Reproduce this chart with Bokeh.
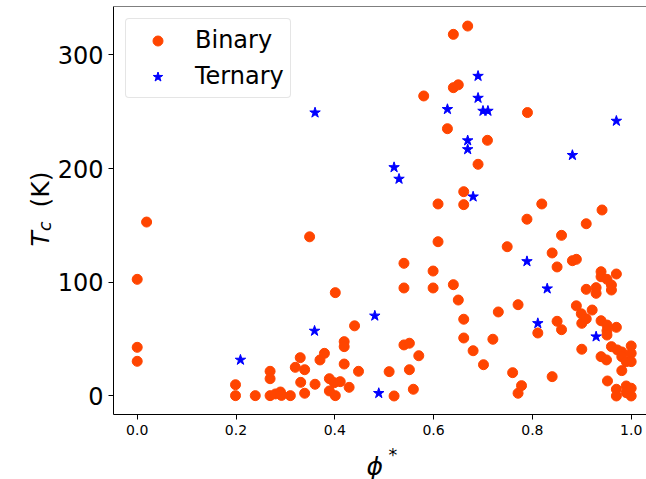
import math
from bokeh.plotting import figure
from bokeh.models import Range1d, FixedTicker, NumeralTickFormatter, Label, Span, Legend, LegendItem
from bokeh.embed import file_html
from bokeh.resources import INLINE

# ---- data ----
binary_phi = [0.0, 0.0, 0.0, 0.019,
              0.199, 0.199, 0.239, 0.269, 0.269, 0.269, 0.280, 0.290, 0.292, 0.310, 0.320, 0.330, 0.331,
              0.339, 0.339, 0.349, 0.360, 0.370, 0.379, 0.389, 0.389, 0.399, 0.401, 0.401, 0.411, 0.419,
              0.419, 0.419, 0.429, 0.440, 0.448,
              0.510, 0.520, 0.540, 0.540, 0.540, 0.551, 0.551, 0.559, 0.570, 0.580, 0.599, 0.599, 0.609,
              0.609, 0.628, 0.640, 0.640, 0.640, 0.650, 0.650, 0.661, 0.661, 0.661, 0.661, 0.669, 0.680,
              0.690, 0.701, 0.709, 0.720, 0.731, 0.749, 0.760, 0.771, 0.771, 0.778, 0.789, 0.790, 0.811,
              0.819, 0.840, 0.840, 0.850, 0.850, 0.859, 0.859, 0.881, 0.889, 0.889, 0.899, 0.900, 0.900,
              0.909, 0.909, 0.909, 0.921, 0.929, 0.929, 0.939, 0.939, 0.939, 0.939, 0.941, 0.951, 0.951,
              0.951, 0.951, 0.950, 0.952, 0.960, 0.960, 0.960, 0.970, 0.970, 0.972, 0.970, 0.970, 0.981,
              0.981, 0.981, 0.990, 0.990, 0.990, 1.0, 1.0, 1.0, 1.0, 1.0]
binary_tc = [102.6, 42.8, 30.5, 153.0,
             9.9, 0.3, 0.3, 21.7, 15.2, 0.3, 1.8, 3.5, 0.5, 0.3, 25.2, 33.7, 12.0,
             23.1, 2.4, 140.0, 10.3, 31.7, 37.5, 15.2, 4.4, 11.7, 0.3, 90.9, 12.6, 47.8,
             43.4, 28.1, 7.6, 61.7, 21.7,
             21.4, 0.0, 116.7, 95.0, 44.9, 46.4, 23.1, 5.9, 35.4, 263.9, 109.9, 95.0, 168.9,
             135.7, 235.1, 318.1, 271.2, 97.9, 273.7, 84.4, 179.7, 168.3, 67.5, 51.0, 325.4, 39.8,
             203.8, 27.5, 224.9, 49.9, 73.9, 131.3, 20.5, 80.3, 2.4, 9.1, 155.5, 249.3, 55.4,
             168.9, 125.8, 17.0, 113.5, 65.7, 141.3, 58.3, 119.0, 120.2, 79.3, 72.3, 63.9, 41.1,
             151.5, 93.8, 67.9, 75.6, 95.3, 90.3, 109.3, 104.9, 66.2, 34.6, 163.6, 102.6, 62.4,
             57.4, 53.6, 31.7, 13.2, 97.6, 93.2, 43.4, 107.3, 60.4, 40.5, 5.9, 0.0, 38.7,
             34.6, 22.3, 30.2, 8.8, 2.9, 44.0, 37.5, 30.2, 6.8, 0.0]
ternary_phi = [0.209, 0.359, 0.360, 0.481, 0.489, 0.520, 0.530, 0.628, 0.669, 0.669, 0.680,
               0.690, 0.690, 0.700, 0.710, 0.789, 0.811, 0.830, 0.881, 0.929, 0.970]
ternary_tc = [31.7, 57.2, 249.2, 70.5, 2.4, 201.1, 190.9, 252.2, 224.7, 216.9, 175.3,
              281.4, 262.1, 250.7, 250.7, 118.4, 63.9, 94.4, 211.8, 52.2, 241.9]

x_ticks = [0.0, 0.2, 0.4, 0.6, 0.8, 1.0]
y_ticks = [0, 100, 200, 300]
series_names = ["Binary", "Ternary"]

X_START, X_END = -0.048, 1.031
Y_START, Y_END = -16.3, 342.6
FONT = "DejaVu Sans"

p = figure(width=646, height=479, output_backend="svg", toolbar_location=None,
           x_range=Range1d(X_START, X_END), y_range=Range1d(Y_START, Y_END),
           min_border_left=111, min_border_right=0, min_border_top=6, min_border_bottom=65)
p.outline_line_color = None
p.grid.visible = False
p.background_fill_color = "white"
p.border_fill_color = "white"

r1 = p.scatter(binary_phi, binary_tc, marker="circle", size=10,
               fill_color="#FF4500", line_color="#FF4500")
r2 = p.scatter(ternary_phi, ternary_tc, marker="star", size=11,
               fill_color="#0000FF", line_color="#0000FF")

# axes
for ax in (p.xaxis[0], p.yaxis[0]):
    ax.axis_line_color = "black"
    ax.axis_line_width = 1
    ax.major_tick_line_color = "black"
    ax.major_tick_out = 5
    ax.major_tick_in = 0
    ax.minor_tick_line_color = None
    ax.major_label_standoff = 5
    ax.major_label_text_color = "black"
    ax.major_label_text_font = FONT

p.xaxis.ticker = FixedTicker(ticks=x_ticks)
p.xaxis.formatter = NumeralTickFormatter(format="0.0")
p.xaxis.major_label_text_font_size = "14px"
p.yaxis.ticker = FixedTicker(ticks=y_ticks)
p.yaxis.formatter = NumeralTickFormatter(format="0")
p.yaxis.major_label_text_font_size = "24px"

# top spine
p.add_layout(Span(location=Y_END, dimension="width", line_color="black", line_width=1))

# axis titles, canvas units, placed in side panels (not clipped by the frame)
lab_kw = dict(x_units="canvas", y_units="canvas", text_font=FONT, text_color="black",
              text_baseline="alphabetic", text_align="left")
p.add_layout(Label(x=366, y=466, text="\u03d5", text_font_size="25px",
                   text_font_style="italic", **lab_kw), "left")
p.add_layout(Label(x=388, y=454, text="*", text_font_size="17.5px", **lab_kw), "left")
p.add_layout(Label(x=40, y=207, text="(K)", angle=math.pi / 2, text_font_size="25px", **lab_kw), "left")
p.add_layout(Label(x=40, y=246, text="T", angle=math.pi / 2, text_font_size="25px",
                   text_font_style="italic", **lab_kw), "below")
p.add_layout(Label(x=44, y=230.5, text="c", angle=math.pi / 2, text_font_size="17.5px",
                   text_font_style="italic", **lab_kw), "below")

legend = Legend(items=[LegendItem(label=series_names[0], renderers=[r1]),
                       LegendItem(label=series_names[1], renderers=[r2])],
                location="top_left")
legend.label_text_font = FONT
legend.label_text_font_size = "24px"
legend.label_text_color = "black"
legend.label_height = 30
legend.glyph_height = 25
legend.glyph_width = 51
legend.label_standoff = 12
legend.spacing = 6
legend.padding = 6
legend.margin = 12
legend.border_line_color = "#cccccc"
legend.border_line_width = 1
legend.background_fill_alpha = 0.8
if "border_radius" in Legend.properties():
    legend.border_radius = 4
p.add_layout(legend)

open("out.html", "w").write(file_html(p, INLINE))
